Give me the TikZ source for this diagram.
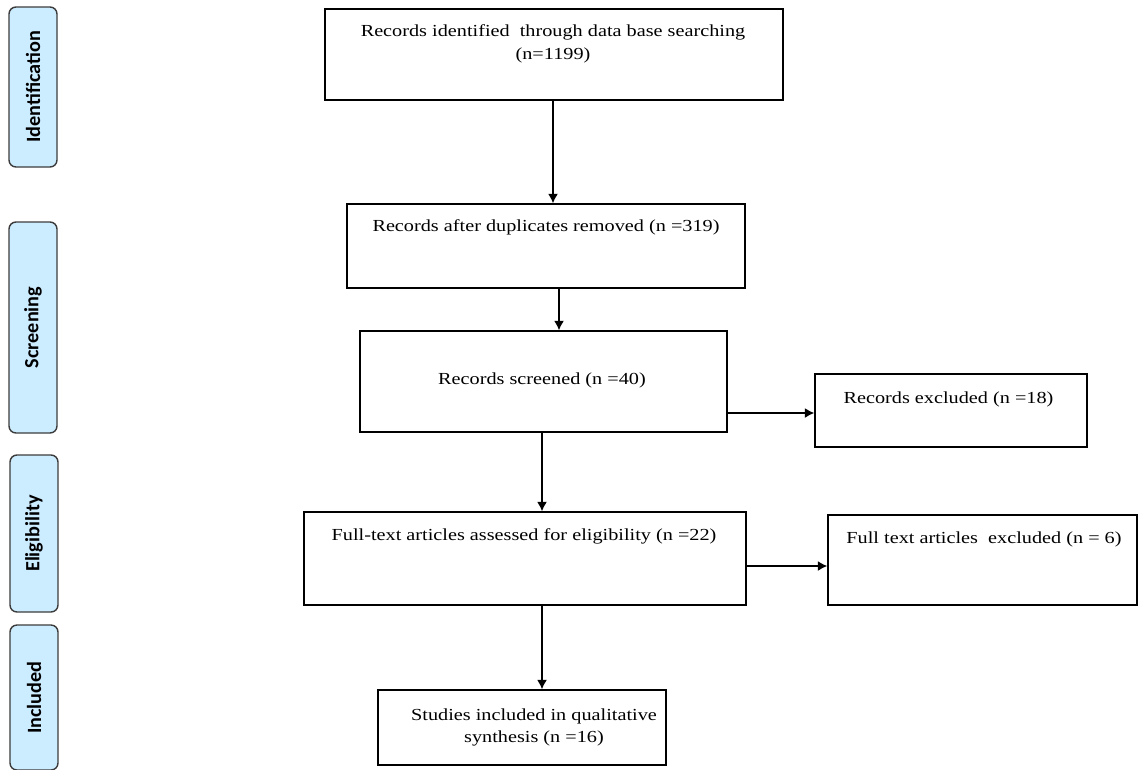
\documentclass[tikz,border=0pt]{standalone}
\usepackage{fontspec}
\setmainfont{Liberation Serif}[FakeStretch=1.2]
\newfontfamily\sidefont{Carlito}
\usetikzlibrary{arrows.meta,positioning,calc}
\definecolor{sideblue}{RGB}{204,236,255}
\definecolor{sidegray}{RGB}{60,60,60}

\begin{document}
\begin{tikzpicture}[
    box/.style={draw, line width=0.8pt},
    phase/.style={draw=sidegray, line width=0.8pt, fill=sideblue, rounded corners=0.14cm,
        rotate=90, minimum height=0.96cm, font=\sidefont\bfseries\fontsize{11.5}{13}\selectfont},
    txt/.style={align=center, inner sep=0pt, font=\fontsize{9.6}{12.8}\selectfont},
    flow/.style={-{Latex[length=1.9mm,width=2mm]}, line width=0.8pt}]
    \useasboundingbox (0,0) rectangle (22.76,-15.38);

    % phases on the left
    \node[phase, minimum width=3.20cm] (pid) at (0.66,-1.74) {Identification};
    \node[phase, minimum width=4.22cm] (pscr) at (0.66,-6.55) {Screening};
    \node[phase, minimum width=3.14cm] (pelig) at (0.68,-10.67) {Eligibility};
    \node[phase, minimum width=2.90cm] (pinc) at (0.68,-13.95) {Included};

    % boxes
    \node[box, minimum width=9.16cm, minimum height=1.82cm] (ident) at (11.08,-1.09) {};
    \node[box, minimum width=7.96cm, minimum height=1.68cm] (dedup) at (10.92,-4.92) {};
    \node[box, minimum width=7.34cm, minimum height=2.02cm] (screen) at (10.87,-7.63) {};
    \node[box, minimum width=5.44cm, minimum height=1.46cm] (excl) at (19.02,-8.21) {};
    \node[box, minimum width=8.84cm, minimum height=1.86cm] (full) at (10.50,-11.17) {};
    \node[box, minimum width=6.18cm, minimum height=1.80cm] (ftexcl) at (19.65,-11.20) {};
    \node[box, minimum width=5.76cm, minimum height=1.50cm] (incl) at (10.44,-14.55) {};

    % texts
    \node[txt] (identtxt) at (11.06,-0.88) {Records identified\ \ through data base searching\\(n=1199)};
    \node[txt] (deduptxt) at (10.92,-4.54) {Records after duplicates removed (n =319)};
    \node[txt] (screentxt) at (10.84,-7.60) {Records screened (n =40)};
    \node[txt] (excltxt) at (18.97,-7.98) {Records excluded (n =18)};
    \node[txt] (fulltxt) at (10.48,-10.72) {Full-text articles assessed for eligibility (n =22)};
    \node[txt] (ftexcltxt) at (19.68,-10.78) {Full text articles\ \ excluded (n = 6)};
    \node[txt] (incltxt) at (10.68,-14.55) {Studies included in qualitative\\synthesis (n =16)};

    % arrows
    \draw[flow] ([xshift=-0.02cm]ident.south) -- ([xshift=-0.02cm]ident.south |- dedup.north);
    \draw[flow] ([xshift=0.26cm]dedup.south) -- ([xshift=0.26cm]dedup.south |- screen.north);
    \draw[flow] ([xshift=-0.03cm]screen.south) -- ([xshift=-0.03cm]screen.south |- full.north);
    \draw[flow] ([yshift=-0.05cm]screen.east |- excl.west) -- ([yshift=-0.05cm]excl.west);
    \draw[flow] ([xshift=0.34cm]full.south) -- ([xshift=0.34cm]full.south |- incl.north);
    \draw[flow] ([yshift=-0.12cm]full.east |- ftexcl.west) -- ([yshift=-0.12cm]ftexcl.west);
\end{tikzpicture}
\end{document}
